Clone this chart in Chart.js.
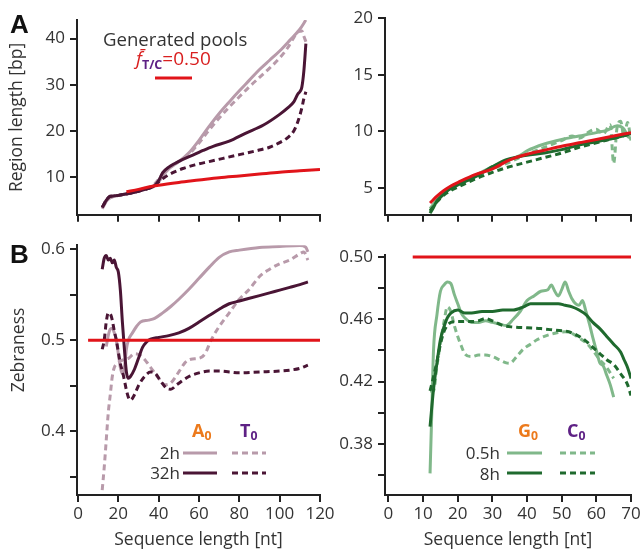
<!DOCTYPE html>
<html>
<head>
<meta charset="utf-8">
<script src="https://cdn.jsdelivr.net/npm/chart.js@4.4.0/dist/chart.umd.min.js"></script>
<style>
body { margin: 0; background: #fff; }
#wrap { position: relative; width: 644px; height: 554px; font-family: "Open Sans", sans-serif; color: #333; overflow: hidden; }
canvas { position: absolute; }
.t { position: absolute; white-space: nowrap; line-height: 1; }
.t sub { font-size: 0.68em; vertical-align: -0.28em; line-height: 0; }
.panel { font: bold 26px "Liberation Sans", Arial, sans-serif; color: #111; }
.hdr { font-weight: bold; font-size: 18px; }
.lg { font-size: 17px; color: #333; }
</style>
</head>
<body>
<div id="wrap">
  <canvas id="cA" width="340" height="230" style="left:0;top:0"></canvas>
  <canvas id="cB" width="340" height="324" style="left:0;top:230px"></canvas>
  <canvas id="cC" width="314" height="230" style="left:330px;top:0"></canvas>
  <canvas id="cD" width="314" height="324" style="left:330px;top:230px"></canvas>

  <div class="t panel" style="left:10px;top:9px">A</div>
  <div class="t panel" style="left:10px;top:239px">B</div>

  <div class="t" style="left:103px;top:30px;font-size:18.6px;color:#333">Generated pools</div>
  <div class="t" style="left:136px;top:49px;font-size:19px;color:#d91f1f"><i>f&#772;</i><sub style="color:#5e2185;font-weight:bold;font-size:0.66em">T/C</sub>=0.50</div>

  <div class="t" style="left:18px;top:350px;font-size:17.5px;color:#333;transform:translate(-50%,-50%) rotate(-90deg);transform-origin:center">Zebraness</div>

  <div class="t hdr" style="left:192px;top:421px;color:#ec7a1c">A<sub>0</sub></div>
  <div class="t hdr" style="left:240px;top:421px;color:#5e2185">T<sub>0</sub></div>
  <div class="t lg" style="right:464px;top:444px">2h</div>
  <div class="t lg" style="right:464px;top:464px">32h</div>

  <div class="t hdr" style="left:518px;top:421px;color:#ec7a1c">G<sub>0</sub></div>
  <div class="t hdr" style="left:567px;top:421px;color:#5e2185">C<sub>0</sub></div>
  <div class="t lg" style="right:144px;top:444px">0.5h</div>
  <div class="t lg" style="right:144px;top:465px">8h</div>
</div>

<script>
// ---- axis ticks ----
var lenTicksL = [0, 20, 40, 60, 80, 100, 120];
var lenTicksR = [0, 10, 20, 30, 40, 50, 60, 70];
var regionTicksL = [10, 20, 30, 40];
var regionTicksR = [5, 10, 15, 20];
var zebraTicksL = [0.35, 0.4, 0.45, 0.5, 0.55, 0.6];
var zebraLabelsL = ['', '0.4', '', '0.5', '', '0.6'];
var zebraTicksR = [0.36, 0.38, 0.40, 0.42, 0.44, 0.46, 0.48, 0.50];
var zebraLabelsR = ['', '0.38', '', '0.42', '', '0.46', '', '0.50'];

// ---- panel A: region length, A0/T0 pools ----
var modelA_x = [24, 30, 35, 40, 50, 60, 70, 80, 90, 100, 110, 120];
var modelA_y = [6.9, 7.4, 7.9, 8.3, 8.9, 9.4, 9.9, 10.3, 10.7, 11.1, 11.4, 11.7];
var a2hA_x = [12, 13, 14, 15, 16, 18, 20, 25, 30, 35, 38, 40, 42, 45, 48, 50, 55, 60, 65, 70, 75, 80, 85, 90, 95, 100, 105, 110, 113];
var a2hA_y = [3.2, 4.0, 4.8, 5.3, 5.6, 5.9, 6.1, 6.5, 7.0, 7.7, 8.3, 9.0, 10.3, 11.8, 12.8, 13.4, 15.3, 18.0, 21.0, 23.8, 26.3, 28.7, 31.0, 33.3, 35.3, 37.3, 39.6, 42.0, 44.0];
var t2hA_x = [12, 13, 14, 16, 18, 20, 25, 30, 35, 38, 40, 42, 45, 48, 50, 55, 60, 65, 70, 75, 80, 85, 90, 95, 100, 104, 107, 109, 111, 112, 113];
var t2hA_y = [3.3, 4.2, 4.9, 5.6, 5.9, 6.1, 6.5, 7.0, 7.8, 8.6, 9.6, 10.8, 12.0, 12.9, 13.4, 15.0, 17.4, 20.2, 22.8, 25.2, 27.4, 29.6, 31.6, 33.6, 35.8, 38.0, 40.2, 41.4, 41.6, 40.5, 39.3];
var a32hA_x = [12, 13, 14, 15, 16, 18, 20, 25, 30, 35, 38, 40, 42, 45, 48, 52, 58, 62, 67, 75, 83, 92, 100, 104, 107, 109, 110, 111, 112, 113];
var a32hA_y = [3.5, 4.3, 5.0, 5.6, 5.9, 6.0, 6.1, 6.5, 7.0, 7.6, 8.2, 9.3, 11.0, 12.2, 13.0, 13.9, 15.0, 15.8, 16.7, 17.8, 19.5, 21.3, 23.6, 25.0, 26.3, 28.0, 28.5, 29.5, 33.0, 38.9];
var t32hA_x = [12, 13, 14, 15, 16, 18, 20, 25, 30, 35, 38, 40, 43, 47, 52, 58, 65, 72, 80, 88, 95, 100, 104, 107, 109, 111, 112, 113];
var t32hA_y = [3.5, 4.3, 5.0, 5.6, 5.9, 6.0, 6.1, 6.5, 7.0, 7.6, 8.2, 9.0, 10.0, 11.0, 11.9, 12.7, 13.4, 14.1, 14.9, 15.7, 16.5, 17.5, 18.6, 20.0, 22.0, 25.0, 27.0, 28.5];

// ---- panel B: zebraness, A0/T0 pools ----
var modelB_x = [5, 120];
var modelB_y = [0.5, 0.5];
var a2hB_x = [14, 15, 16, 17, 18, 19, 20, 21, 22, 23, 24, 25, 27, 29, 31, 35, 38, 42, 46, 50, 55, 60, 65, 70, 75, 80, 90, 100, 110, 113, 114];
var a2hB_y = [0.493, 0.505, 0.512, 0.513, 0.508, 0.500, 0.485, 0.470, 0.463, 0.470, 0.490, 0.500, 0.508, 0.515, 0.520, 0.522, 0.524, 0.530, 0.537, 0.545, 0.556, 0.568, 0.580, 0.591, 0.597, 0.599, 0.602, 0.603, 0.604, 0.602, 0.597];
var t2hB_x = [12, 13, 14, 15, 16, 17, 18, 20, 22, 25, 28, 31, 34, 37, 40, 43, 46, 50, 53, 56, 60, 63, 66, 70, 75, 80, 85, 90, 95, 100, 105, 110, 112, 114];
var t2hB_y = [0.335, 0.36, 0.39, 0.42, 0.44, 0.46, 0.47, 0.475, 0.478, 0.48, 0.485, 0.483, 0.476, 0.467, 0.458, 0.451, 0.453, 0.465, 0.475, 0.479, 0.48, 0.485, 0.50, 0.515, 0.53, 0.545, 0.556, 0.57, 0.578, 0.584, 0.588, 0.595, 0.597, 0.588];
var a32hB_x = [12, 13, 14, 15, 16, 17, 18, 19, 20, 21, 22, 23, 24, 25, 26, 28, 30, 32, 34, 36, 40, 45, 50, 55, 60, 65, 70, 75, 80, 85, 90, 95, 100, 105, 110, 114];
var a32hB_y = [0.578, 0.590, 0.593, 0.588, 0.590, 0.585, 0.588, 0.580, 0.575, 0.555, 0.52, 0.49, 0.465, 0.458, 0.460, 0.468, 0.480, 0.492, 0.498, 0.501, 0.503, 0.505, 0.508, 0.513, 0.520, 0.527, 0.534, 0.540, 0.543, 0.546, 0.549, 0.552, 0.555, 0.558, 0.561, 0.564];
var t32hB_x = [12, 13, 14, 15, 16, 17, 18, 19, 20, 21, 22, 23, 24, 25, 26, 28, 30, 33, 36, 38, 41, 44, 46, 49, 55, 60, 65, 70, 75, 80, 90, 100, 105, 110, 114];
var t32hB_y = [0.49, 0.50, 0.52, 0.53, 0.529, 0.522, 0.51, 0.50, 0.487, 0.474, 0.466, 0.456, 0.445, 0.437, 0.434, 0.44, 0.45, 0.46, 0.465, 0.464, 0.455, 0.447, 0.446, 0.451, 0.46, 0.464, 0.466, 0.466, 0.465, 0.464, 0.465, 0.466, 0.467, 0.469, 0.4725];

// ---- panel C: region length, G0/C0 pools ----
var modelC_x = [12, 14, 16, 18, 20, 25, 30, 35, 40, 45, 50, 55, 60, 65, 70];
var modelC_y = [3.7, 4.3, 4.8, 5.2, 5.5, 6.2, 6.7, 7.5, 8.0, 8.35, 8.7, 9.0, 9.3, 9.6, 9.9];
var g05hC_x = [12, 14, 16, 18, 20, 25, 30, 35, 38, 40, 45, 50, 55, 60, 63, 66, 68, 69, 70];
var g05hC_y = [3.2, 4.0, 4.6, 5.0, 5.3, 6.1, 6.9, 7.5, 7.9, 8.3, 8.9, 9.3, 9.6, 9.9, 10.1, 10.5, 10.2, 9.6, 9.4];
var c05hC_x = [12, 14, 16, 18, 20, 25, 30, 35, 40, 45, 50, 53, 55, 58, 60, 62, 64, 65, 66, 67, 68, 69, 70];
var c05hC_y = [3.0, 3.9, 4.5, 4.9, 5.3, 6.0, 6.7, 7.3, 8.0, 8.6, 9.2, 9.6, 9.4, 10.0, 10.2, 9.8, 10.6, 7.2, 10.4, 10.9, 9.5, 10.8, 9.2];
var g8hC_x = [12, 13, 14, 15, 16, 18, 20, 25, 30, 33, 35, 38, 40, 45, 50, 55, 60, 65, 70];
var g8hC_y = [2.8, 3.3, 3.9, 4.2, 4.5, 5.0, 5.3, 6.0, 6.9, 7.4, 7.6, 7.8, 7.9, 8.1, 8.4, 8.8, 9.1, 9.4, 9.8];
var c8hC_x = [12, 14, 16, 18, 20, 25, 30, 35, 40, 45, 50, 55, 60, 65, 70];
var c8hC_y = [3.0, 3.8, 4.4, 4.8, 5.1, 5.8, 6.4, 6.9, 7.3, 7.7, 8.1, 8.6, 9.0, 9.4, 9.8];

// ---- panel D: zebraness, G0/C0 pools ----
var modelD_x = [7, 70];
var modelD_y = [0.5, 0.5];
var g05hD_x = [12, 12.5, 13, 14, 15, 16, 17, 18, 19, 20, 21, 22, 24, 26, 28, 30, 32, 34, 36, 38, 40, 42, 44, 46, 47, 48, 49, 50, 51, 52, 53, 54, 55, 56, 57, 58, 59, 60, 61, 62, 63, 64, 65];
var g05hD_y = [0.361, 0.40, 0.44, 0.463, 0.478, 0.482, 0.484, 0.483, 0.476, 0.470, 0.464, 0.461, 0.458, 0.458, 0.459, 0.458, 0.457, 0.456, 0.460, 0.465, 0.472, 0.475, 0.478, 0.479, 0.482, 0.478, 0.475, 0.479, 0.484, 0.478, 0.473, 0.470, 0.469, 0.472, 0.465, 0.457, 0.448, 0.44, 0.432, 0.43, 0.424, 0.418, 0.410];
var c05hD_x = [12, 13, 14, 15, 16, 17, 18, 19, 20, 21, 22, 24, 26, 28, 30, 32, 34, 35, 37, 39, 41, 43, 45, 48, 51, 53, 55, 57, 59, 61, 63, 65];
var c05hD_y = [0.414, 0.414, 0.43, 0.445, 0.458, 0.468, 0.465, 0.456, 0.449, 0.443, 0.438, 0.436, 0.437, 0.437, 0.436, 0.434, 0.432, 0.4317, 0.436, 0.441, 0.444, 0.447, 0.449, 0.451, 0.452, 0.451, 0.448, 0.445, 0.44, 0.434, 0.429, 0.422];
var g8hD_x = [12, 13, 14, 15, 16, 17, 18, 20, 22, 24, 27, 30, 33, 36, 39, 41, 45, 49, 51, 53, 55, 57, 59, 61, 63, 65, 67, 68, 69, 70];
var g8hD_y = [0.391, 0.415, 0.432, 0.447, 0.455, 0.461, 0.464, 0.466, 0.464, 0.464, 0.465, 0.465, 0.466, 0.466, 0.468, 0.470, 0.470, 0.470, 0.469, 0.468, 0.466, 0.463, 0.458, 0.454, 0.449, 0.444, 0.439, 0.434, 0.429, 0.422];
var c8hD_x = [12, 13, 14, 15, 16, 17, 18, 20, 23, 26, 28, 30, 33, 36, 40, 44, 48, 52, 55, 57, 59, 61, 63, 65, 67, 69, 70];
var c8hD_y = [0.414, 0.423, 0.433, 0.444, 0.452, 0.456, 0.458, 0.4585, 0.4585, 0.459, 0.4605, 0.459, 0.456, 0.455, 0.4545, 0.454, 0.453, 0.452, 0.449, 0.446, 0.442, 0.438, 0.434, 0.431, 0.425, 0.418, 0.411];

// colours
var RED = '#e1141a';
var MAUVE_L = '#b89aaa';
var MAUVE_D = '#4a1535';
var GREEN_L = '#80b88a';
var GREEN_D = '#1f6a2e';
var AXIS = '#222';
var TXT = '#333';

function pts(xs, ys) {
    return xs.map(function (x, i) { return { x: x, y: ys[i] }; });
}

function line(xs, ys, color, dashed) {
    return {
        data: pts(xs, ys),
        borderColor: color,
        borderWidth: 3,
        borderDash: dashed ? [6, 4] : [],
        pointRadius: 0,
        fill: false,
        cubicInterpolationMode: 'monotone'
    };
}

// draws the little legend line samples
var sampleLines = {
    id: 'sampleLines',
    afterDraw: function (chart, args, opts) {
        var ctx = chart.ctx;
        (opts.items || []).forEach(function (it) {
            ctx.save();
            ctx.strokeStyle = it.color;
            ctx.lineWidth = 3;
            ctx.setLineDash(it.dash ? [6, 4] : []);
            ctx.beginPath();
            ctx.moveTo(it.x1, it.y);
            ctx.lineTo(it.x2, it.y);
            ctx.stroke();
            ctx.restore();
        });
    }
};

var tickFont = { family: '"Open Sans", sans-serif', size: 17 };
var titleFont = { family: '"Open Sans", sans-serif', size: 17.5 };

function xScale(min, max, ticks, showLabels, height, title) {
    return {
        type: 'linear', min: min, max: max,
        afterBuildTicks: function (s) { s.ticks = ticks.map(function (v) { return { value: v }; }); },
        afterFit: function (s) { s.height = height; },
        grid: { drawOnChartArea: false, drawTicks: true, tickLength: 7, color: AXIS, lineWidth: 2 },
        border: { display: true, color: AXIS, width: 2 },
        ticks: { display: showLabels, font: tickFont, color: TXT, padding: 2, maxRotation: 0, autoSkip: false },
        title: { display: !!title, text: title || '', font: titleFont, color: TXT, padding: { top: 0, bottom: 3 } }
    };
}

function yScale(min, max, ticks, labels, width, title) {
    return {
        type: 'linear', min: min, max: max,
        afterBuildTicks: function (s) { s.ticks = ticks.map(function (v) { return { value: v }; }); },
        afterFit: function (s) { s.width = width; },
        grid: { drawOnChartArea: false, drawTicks: true, tickLength: 7, color: AXIS, lineWidth: 2 },
        border: { display: true, color: AXIS, width: 2 },
        ticks: {
            font: tickFont, color: TXT, padding: 5, autoSkip: false,
            callback: function (v, i) { return labels ? labels[i] : String(v); }
        },
        title: { display: !!title, text: title || '', font: titleFont, color: TXT, padding: { top: 7, bottom: 0 } }
    };
}

function makeChart(id, datasets, scales, padding, samples) {
    return new Chart(document.getElementById(id).getContext('2d'), {
        type: 'line',
        data: { datasets: datasets },
        options: {
            responsive: false,
            animation: false,
            layout: { padding: padding },
            scales: scales,
            plugins: {
                legend: { display: false },
                tooltip: { enabled: false },
                sampleLines: { items: samples }
            }
        },
        plugins: [sampleLines]
    });
}

makeChart('cA', [
    line(modelA_x, modelA_y, RED, false),
    line(a32hA_x, a32hA_y, MAUVE_D, false),
    line(t32hA_x, t32hA_y, MAUVE_D, true),
    line(a2hA_x, a2hA_y, MAUVE_L, false),
    line(t2hA_x, t2hA_y, MAUVE_L, true)
], {
    x: xScale(-0.5, 120, lenTicksL, false, 12),
    y: yScale(1.9, 44, regionTicksL, null, 77, 'Region length [bp]')
}, { left: 0, right: 20, top: 20, bottom: 0 }, [
    { x1: 155, x2: 192, y: 78, color: RED }
]);

makeChart('cB', [
    line(modelB_x, modelB_y, RED, false),
    line(a32hB_x, a32hB_y, MAUVE_D, false),
    line(t32hB_x, t32hB_y, MAUVE_D, true),
    line(a2hB_x, a2hB_y, MAUVE_L, false),
    line(t2hB_x, t2hB_y, MAUVE_L, true)
], {
    x: xScale(-0.5, 120, lenTicksL, true, 59, 'Sequence length [nt]'),
    y: yScale(0.3297, 0.6044, zebraTicksL, zebraLabelsL, 77)
}, { left: 0, right: 20, top: 15, bottom: 0 }, [
    { x1: 183, x2: 217, y: 223, color: MAUVE_L },
    { x1: 232, x2: 266, y: 223, color: MAUVE_L, dash: true },
    { x1: 183, x2: 217, y: 243, color: MAUVE_D },
    { x1: 232, x2: 266, y: 243, color: MAUVE_D, dash: true }
]);

makeChart('cC', [
    line(modelC_x, modelC_y, RED, false),
    line(g8hC_x, g8hC_y, GREEN_D, false),
    line(c8hC_x, c8hC_y, GREEN_D, true),
    line(g05hC_x, g05hC_y, GREEN_L, false),
    line(c05hC_x, c05hC_y, GREEN_L, true)
], {
    x: xScale(-1, 70, lenTicksR, false, 12),
    y: yScale(2.66, 20, regionTicksR, null, 55)
}, { left: 0, right: 13, top: 18, bottom: 0 }, []);

makeChart('cD', [
    line(modelD_x, modelD_y, RED, false),
    line(g8hD_x, g8hD_y, GREEN_D, false),
    line(c8hD_x, c8hD_y, GREEN_D, true),
    line(g05hD_x, g05hD_y, GREEN_L, false),
    line(c05hD_x, c05hD_y, GREEN_L, true)
], {
    x: xScale(-1, 70, lenTicksR, true, 59, 'Sequence length [nt]'),
    y: yScale(0.3471, 0.5013, zebraTicksR, zebraLabelsR, 55)
}, { left: 0, right: 13, top: 25, bottom: 0 }, [
    { x1: 177, x2: 212, y: 223, color: GREEN_L },
    { x1: 230, x2: 265, y: 223, color: GREEN_L, dash: true },
    { x1: 177, x2: 212, y: 243, color: GREEN_D },
    { x1: 230, x2: 265, y: 243, color: GREEN_D, dash: true }
]);
</script>
</body>
</html>
